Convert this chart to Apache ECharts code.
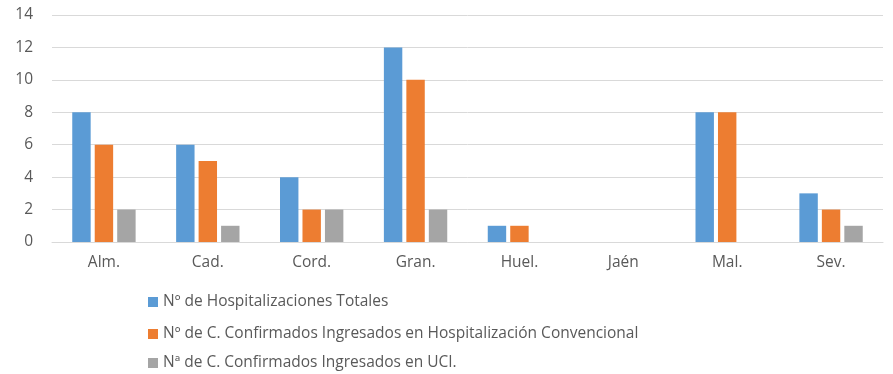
<!DOCTYPE html>
<html><head><meta charset="utf-8">
<script src="https://cdn.jsdelivr.net/npm/echarts@6/dist/echarts.min.js"></script>
<style>html,body{margin:0;padding:0;background:#fff}#c{width:893px;height:374px}</style>
</head><body><div id="c"></div>
<script>
const categories = ['Alm.', 'Cad.', 'Cord.', 'Gran.', 'Huel.', 'Jaén', 'Mal.', 'Sev.'];
const totales = [8, 6, 4, 12, 1, 0, 8, 3];
const convencional = [6, 5, 2, 10, 1, 0, 8, 2];
const uci = [2, 1, 2, 2, 0, 0, 0, 1];
const seriesNames = ['Nº de Hospitalizaciones Totales', 'Nº de C. Confirmados Ingresados en Hospitalización Convencional', 'Nª de C. Confirmados Ingresados en UCI.'];
const yTicks = [0, 2, 4, 6, 8, 10, 12, 14];

const chart = echarts.init(document.getElementById('c'));
const font = 'Open Sans';
const legendTops = [289, 321, 350];
chart.setOption({
  animation: false,
  textStyle: { fontFamily: font },
  grid: { left: 52, right: 10, top: 15, bottom: 132 },
  legend: seriesNames.map((n, i) => ({
    orient: 'horizontal', left: 143, top: legendTops[i],
    itemWidth: 10, itemHeight: 10, icon: 'rect', itemGap: 6,
    textStyle: { fontFamily: font, fontSize: 15.5, color: '#595959' },
    data: [n]
  })),
  xAxis: {
    type: 'category', data: categories,
    axisLine: { lineStyle: { color: '#D9D9D9' } },
    axisTick: { show: false },
    axisLabel: { color: '#595959', fontSize: 15.5, margin: 13, fontFamily: font }
  },
  yAxis: {
    type: 'value', min: 0, max: 14, interval: 2,
    axisLine: { show: false }, axisTick: { show: false },
    splitLine: { lineStyle: { color: '#D9D9D9' } },
    axisLabel: { color: '#595959', fontSize: 15.5, margin: 19, fontFamily: font,
      formatter: v => yTicks.includes(v) ? String(v) : '' }
  },
  series: [
    { name: seriesNames[0], type: 'bar', data: totales, itemStyle: { color: '#5B9BD5' }, barGap: '22%', barCategoryGap: '39%' },
    { name: seriesNames[1], type: 'bar', data: convencional, itemStyle: { color: '#ED7D31' } },
    { name: seriesNames[2], type: 'bar', data: uci, itemStyle: { color: '#A5A5A5' } }
  ]
});
</script></body></html>
